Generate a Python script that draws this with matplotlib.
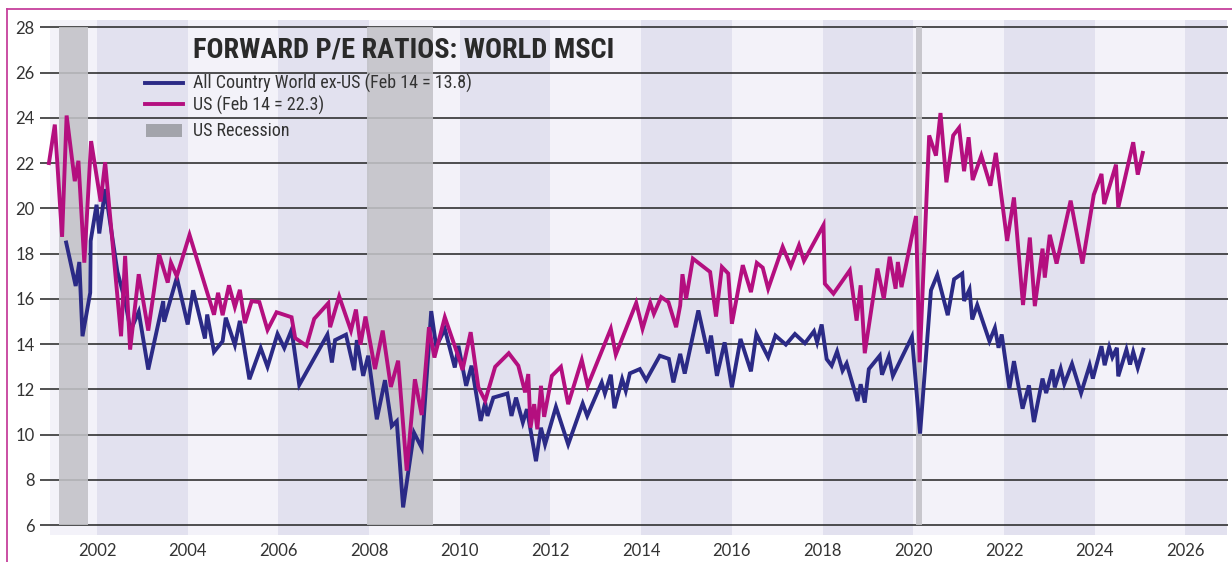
import matplotlib
matplotlib.use("Agg")
import matplotlib.pyplot as plt
from matplotlib import font_manager
from matplotlib.lines import Line2D
from matplotlib.patches import Rectangle

# ---------------- data ----------------
us_dates = [2000.94, 2001.07, 2001.23, 2001.33, 2001.51, 2001.59, 2001.72, 2001.87, 2002.08, 2002.18,
            2002.53, 2002.62, 2002.73, 2002.92, 2003.13, 2003.37, 2003.56, 2003.63, 2003.76, 2004.04,
            2004.58, 2004.67, 2004.77, 2004.91, 2005.04, 2005.15, 2005.26, 2005.41, 2005.58, 2005.76,
            2005.96, 2006.29, 2006.37, 2006.62, 2006.79, 2007.10, 2007.14, 2007.34, 2007.60, 2007.71,
            2007.81, 2007.92, 2008.13, 2008.30, 2008.48, 2008.64, 2008.83, 2009.01, 2009.16, 2009.32,
            2009.44, 2009.67, 2010.00, 2010.06, 2010.24, 2010.41, 2010.56, 2010.78, 2011.08, 2011.29,
            2011.44, 2011.51, 2011.56, 2011.64, 2011.71, 2011.79, 2011.86, 2012.03, 2012.23, 2012.39,
            2012.69, 2012.82, 2013.33, 2013.44, 2013.89, 2014.03, 2014.20, 2014.28, 2014.44, 2014.60,
            2014.77, 2014.86, 2014.91, 2014.99, 2015.14, 2015.52, 2015.65, 2015.78, 2015.92, 2016.00,
            2016.24, 2016.42, 2016.55, 2016.68, 2016.80, 2017.12, 2017.30, 2017.48, 2017.59, 2018.02,
            2018.05, 2018.24, 2018.60, 2018.75, 2018.84, 2018.93, 2019.21, 2019.35, 2019.48, 2019.61,
            2019.66, 2019.74, 2020.06, 2020.14, 2020.35, 2020.50, 2020.60, 2020.73, 2020.88, 2021.01,
            2021.12, 2021.22, 2021.31, 2021.50, 2021.70, 2021.82, 2022.07, 2022.22, 2022.42, 2022.57,
            2022.68, 2022.85, 2022.90, 2023.01, 2023.16, 2023.47, 2023.73, 2023.98, 2024.15, 2024.21,
            2024.47, 2024.52, 2024.85, 2024.95, 2025.06]
us_pe = [22.0, 23.7, 18.74, 24.1, 21.2, 22.1, 17.6, 22.97, 20.3, 22.04,
         14.35, 17.9, 13.76, 17.09, 14.6, 17.97, 16.72, 17.6, 17.0, 18.83,
         15.3, 16.27, 15.28, 16.6, 15.64, 16.4, 14.93, 15.9, 15.86, 14.63,
         15.41, 15.19, 14.27, 13.93, 15.12, 15.81, 14.75, 16.11, 14.6, 15.53,
         13.98, 15.22, 12.9, 14.6, 12.11, 13.27, 8.41, 12.45, 10.87, 14.75,
         13.41, 15.19, 13.27, 12.86, 14.53, 12.09, 11.5, 13.0, 13.6, 13.05,
         11.87, 12.68, 10.31, 11.35, 10.24, 12.16, 10.79, 12.6, 13.0, 11.35,
         13.3, 12.16, 14.68, 13.54, 15.82, 14.68, 15.82, 15.34, 16.08, 15.86,
         14.75, 15.71, 17.09, 16.0, 17.78, 17.19, 15.22, 17.41, 17.12, 14.9,
         17.49, 16.3, 17.59, 17.38, 16.45, 18.3, 17.44, 18.37, 17.68, 19.26,
         16.67, 16.23, 17.26, 15.04, 16.6, 13.6, 17.34, 16.0, 17.86, 16.45,
         17.63, 16.52, 19.66, 13.2, 23.22, 22.33, 24.21, 21.15, 23.22, 23.56,
         21.64, 23.14, 21.25, 22.33, 21.0, 22.45, 18.56, 20.48, 15.73, 18.71,
         15.68, 18.22, 16.94, 18.83, 17.56, 20.34, 17.56, 20.6, 21.52, 20.19,
         21.93, 20.04, 22.92, 21.49, 22.45]

exus_dates = [2001.32, 2001.53, 2001.61, 2001.68, 2001.85, 2001.86, 2001.99, 2002.05, 2002.18, 2002.45,
              2002.62, 2002.74, 2002.92, 2003.13, 2003.46, 2003.48, 2003.76, 2004.00, 2004.12, 2004.38,
              2004.43, 2004.58, 2004.77, 2004.84, 2005.04, 2005.15, 2005.36, 2005.61, 2005.76, 2005.98,
              2006.13, 2006.29, 2006.46, 2007.08, 2007.18, 2007.25, 2007.49, 2007.67, 2007.73, 2007.87,
              2007.98, 2008.17, 2008.35, 2008.50, 2008.61, 2008.75, 2008.99, 2009.16, 2009.37, 2009.48,
              2009.67, 2009.89, 2009.97, 2010.14, 2010.26, 2010.46, 2010.56, 2010.61, 2010.74, 2011.05,
              2011.14, 2011.24, 2011.39, 2011.48, 2011.68, 2011.79, 2011.88, 2012.12, 2012.39, 2012.71,
              2012.81, 2013.13, 2013.20, 2013.33, 2013.41, 2013.58, 2013.66, 2013.75, 2013.97, 2014.11,
              2014.41, 2014.61, 2014.71, 2014.86, 2014.96, 2015.26, 2015.47, 2015.54, 2015.67, 2015.84,
              2016.00, 2016.19, 2016.42, 2016.54, 2016.80, 2016.96, 2017.19, 2017.39, 2017.61, 2017.81,
              2017.88, 2017.98, 2018.09, 2018.20, 2018.32, 2018.44, 2018.53, 2018.77, 2018.84, 2018.93,
              2019.02, 2019.26, 2019.31, 2019.46, 2019.55, 2019.97, 2020.15, 2020.39, 2020.53, 2020.76,
              2020.90, 2021.08, 2021.12, 2021.24, 2021.30, 2021.41, 2021.68, 2021.80, 2021.88, 2021.95,
              2022.12, 2022.22, 2022.41, 2022.55, 2022.66, 2022.85, 2022.93, 2023.07, 2023.12, 2023.25,
              2023.33, 2023.50, 2023.70, 2023.89, 2023.96, 2024.15, 2024.22, 2024.32, 2024.39, 2024.49,
              2024.52, 2024.70, 2024.78, 2024.85, 2024.95, 2025.07]
exus_pe = [18.49, 16.57, 17.63, 14.35, 16.27, 18.56, 20.16, 18.89, 20.85, 17.2,
           15.9, 14.6, 15.43, 12.88, 15.9, 14.99, 16.94, 14.87, 16.38, 14.25,
           15.31, 13.66, 14.13, 15.17, 13.96, 15.03, 12.45, 13.83, 13.0, 14.45,
           13.83, 14.63, 12.2, 14.42, 13.19, 14.18, 14.42, 12.85, 14.18, 12.6,
           13.49, 10.68, 12.41, 10.38, 10.6, 6.79, 10.09, 9.42, 15.46, 13.89,
           14.67, 12.97, 13.93, 12.16, 13.05, 10.61, 11.42, 10.83, 11.64, 11.82,
           10.83, 11.64, 10.54, 11.13, 8.83, 10.31, 9.57, 11.23, 9.57, 11.38,
           10.83, 12.31, 11.82, 12.65, 11.17, 12.46, 11.94, 12.71, 12.9, 12.41,
           13.49, 13.35, 12.31, 13.57, 12.7, 15.49, 13.59, 14.38, 12.6, 14.08,
           12.09, 14.23, 12.8, 14.45, 13.42, 14.38, 13.98, 14.45, 14.04, 14.57,
           14.08, 14.87, 13.34, 13.05, 13.68, 12.83, 13.15, 11.49, 12.23, 11.42,
           12.9, 13.49, 12.65, 13.45, 12.6, 14.33, 10.05, 16.38, 17.06, 15.28,
           16.87, 17.12, 15.91, 16.42, 15.09, 15.73, 14.13, 14.72, 13.84, 14.43,
           12.04, 13.25, 11.15, 12.18, 10.56, 12.48, 11.84, 12.88, 12.09, 12.92,
           12.24, 13.13, 11.84, 13.07, 12.48, 13.91, 13.07, 13.87, 13.42, 13.84,
           12.58, 13.76, 13.1, 13.66, 12.95, 13.76]

recessions = [(2001.17, 2001.81), (2007.96, 2009.42), (2020.06, 2020.20)]
y_ticks = [6, 8, 10, 12, 14, 16, 18, 20, 22, 24, 26, 28]
x_ticks = [2002, 2004, 2006, 2008, 2010, 2012, 2014, 2016, 2018, 2020, 2022, 2024, 2026]

title = "FORWARD P/E RATIOS: WORLD MSCI"
lab_ex = "All Country World ex-US (Feb 14 = 13.8)"
lab_us = "US (Feb 14 = 22.3)"
lab_rec = "US Recession"

# ---------------- style ----------------
names = {f.name for f in font_manager.fontManager.ttflist}
def pick(*cands):
    for c in cands:
        if c in names:
            return c
    return "DejaVu Sans"
narrow = pick("Liberation Sans Narrow", "Roboto Condensed", "Open Sans Condensed", "Lato", "Noto Sans")
base = pick("Lato", "Noto Sans", "Open Sans", "Roboto")

BLUE = "#2b2a86"
MAG = "#b40f7f"
LIGHT = "#f3f2f9"
DARK = "#e2e1ef"
REC = "#c2c2c7"
GRID = "#222222"
TXT = "#333333"

W, H = 1232, 562
fig = plt.figure(figsize=(W / 100, H / 100), dpi=100)
fig.patch.set_facecolor("white")

ax_l, ax_r, ax_t, ax_b = 40, 1228, 20, 535
ax = fig.add_axes([ax_l / W, 1 - ax_b / H, (ax_r - ax_l) / W, (ax_b - ax_t) / H])
ax.set_xlim(2000.743, 2026.94)
ax.set_ylim(5.57, 28.32)
ax.set_facecolor("white")
for s in ax.spines.values():
    s.set_visible(False)

# alternating background bands
start, end = 2000.96, 2026.92
ax.axvspan(start, 2002, color=LIGHT, lw=0, zorder=0)
y0 = 2002
while y0 < end:
    ax.axvspan(y0, min(y0 + 2, end), color=DARK if (y0 // 2) % 2 == 1 else LIGHT, lw=0, zorder=0)
    y0 += 2

for yv in y_ticks:
    ax.axhline(yv, color=GRID, lw=1.1, zorder=2)

for a, b in recessions:
    ax.fill_between([a, b], 6, 28, color=REC, alpha=0.88, lw=0, zorder=3)

ax.plot(exus_dates, exus_pe, color=BLUE, lw=2.8, zorder=5, solid_joinstyle="miter")
ax.plot(us_dates, us_pe, color=MAG, lw=2.8, zorder=6, solid_joinstyle="miter")

ax.set_yticks(y_ticks)
ax.set_yticklabels([str(v) for v in y_ticks], fontsize=12, color=TXT, family=base)
ax.set_xticks(x_ticks)
ax.set_xticklabels([str(v) for v in x_ticks], fontsize=12, color=TXT, family=base)
ax.tick_params(axis="y", length=0, pad=4)
ax.tick_params(axis="x", length=0, pad=6)

# ---------------- legend / title (manual, pixel-placed) ----------------
def fx(px):
    return px / W
def fy(py):
    return 1 - py / H

renderer = fig.canvas.get_renderer()

def fit_text(txt, x, y, target_w, size, **kw):
    t = fig.text(fx(x), fy(y), txt, fontsize=size, va="center", ha="left", **kw)
    w = t.get_window_extent(renderer).width
    t.set_fontsize(size * target_w / w)
    return t

tt = fit_text(title, 193, 50, 423, 18, family=narrow, weight="bold", color="#2a2a2a")
t1 = fit_text(lab_ex, 193, 83, 345, 15, family=narrow, color=TXT)
fs = min(t1.get_fontsize(), 13.0)
t1.set_fontsize(fs)
fig.text(fx(193), fy(105), lab_us, fontsize=fs, va="center", ha="left", family=narrow, color=TXT)
fig.text(fx(193), fy(131), lab_rec, fontsize=fs, va="center", ha="left", family=narrow, color=TXT)

fig.add_artist(Line2D([fx(145), fx(183)], [fy(83), fy(83)], color=BLUE, lw=2.8))
fig.add_artist(Line2D([fx(145), fx(183)], [fy(104), fy(104)], color=MAG, lw=2.8))
fig.add_artist(Rectangle((fx(146), fy(137)), fx(182) - fx(146), fy(124) - fy(137),
                         facecolor="#a3a4ab", edgecolor="none"))

# pink frame
PINK = "#c6409c"
fig.add_artist(Line2D([fx(7), fx(1232)], [fy(9), fy(9)], color=PINK, lw=1.3))
fig.add_artist(Line2D([fx(7), fx(7)], [fy(9), fy(562)], color=PINK, lw=1.3))

fig.savefig("out.png", dpi=100, facecolor="white")
